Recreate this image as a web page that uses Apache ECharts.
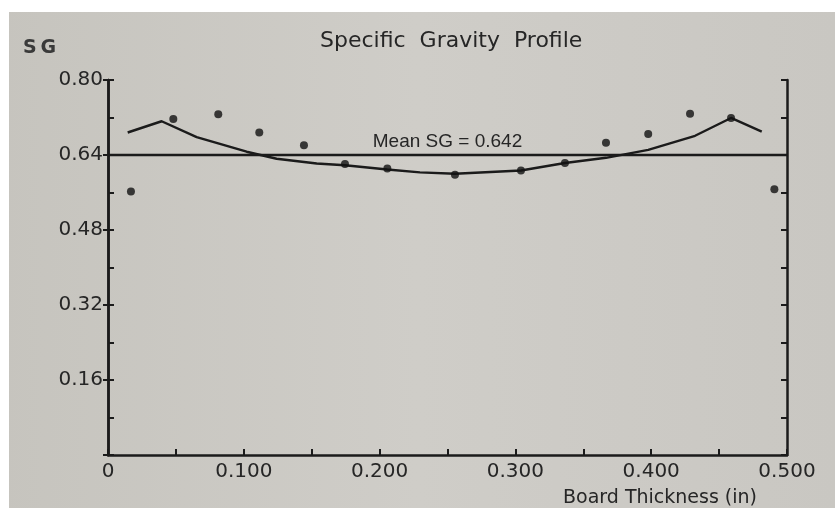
<!DOCTYPE html>
<html>
<head>
<meta charset="utf-8">
<title>Specific Gravity Profile</title>
<script src="https://cdn.jsdelivr.net/npm/echarts@6/dist/echarts.min.js"></script>
<style>
  html, body { margin: 0; padding: 0; background: #ffffff; }
  #chart { width: 835px; height: 508px; }
</style>
</head>
<body>
<div id="chart"></div>
<script>
// Measured layer densities through the board (thickness in inches, SG)
const sampleDepth = [0.0169, 0.0481, 0.0812, 0.1114, 0.1443, 0.1745, 0.2057, 0.2555,
                     0.3041, 0.3365, 0.3667, 0.3978, 0.4286, 0.4588, 0.4907];
const sampleSG    = [0.562, 0.717, 0.727, 0.688, 0.661, 0.621, 0.611, 0.598,
                     0.607, 0.623, 0.666, 0.685, 0.728, 0.719, 0.567];

// Fitted profile curve
const curveDepth = [0.0145, 0.0395, 0.0653, 0.1021, 0.1242, 0.1537, 0.1745, 0.2057, 0.2297,
                    0.2555, 0.3041, 0.3365, 0.3667, 0.3978, 0.4323, 0.4588, 0.4814];
const curveSG    = [0.688, 0.712, 0.678, 0.647, 0.632, 0.622, 0.618, 0.609, 0.603,
                    0.600, 0.607, 0.623, 0.634, 0.651, 0.681, 0.719, 0.690];

const meanSG = 0.642;

// Tick labels
const xTickValues = [0, 0.1, 0.2, 0.3, 0.4, 0.5];
const xTickLabels = ['0', '0.100', '0.200', '0.300', '0.400', '0.500'];
const yTickValues = [0.16, 0.32, 0.48, 0.64, 0.80];
const yTickLabels = ['0.16', '0.32', '0.48', '0.64', '0.80'];

function lookupLabel(values, labels, v) {
  for (let i = 0; i < values.length; i++) {
    if (Math.abs(values[i] - v) < 1e-6) return labels[i];
  }
  return '';
}

const ink = '#1b1b1b';
const textInk = '#262626';
const tickFont = 'DejaVu Sans';

const chart = echarts.init(document.getElementById('chart'), null, { renderer: 'canvas' });

const yBase = {
  type: 'value',
  min: 0,
  max: 0.8,
  splitLine: { show: false },
  axisLine: { show: true, lineStyle: { color: ink, width: 2.5 } }
};

chart.setOption({
  animation: false,
  backgroundColor: {
    type: 'linear', x: 0, y: 0, x2: 1, y2: 0,
    colorStops: [
      { offset: 0, color: '#c6c4be' },
      { offset: 0.5, color: '#cfcdc8' },
      { offset: 1, color: '#c9c7c2' }
    ]
  },
  graphic: [
    { type: 'rect', left: 0, top: 0, shape: { width: 835, height: 12 }, style: { fill: '#ffffff' }, silent: true },
    { type: 'rect', left: 0, top: 0, shape: { width: 9, height: 508 }, style: { fill: '#ffffff' }, silent: true }
  ],
  title: [
    {
      text: 'Specific  Gravity  Profile',
      left: 315, top: 25,
      textStyle: { fontFamily: tickFont, fontSize: 22, fontWeight: 'normal', color: textInk }
    },
    {
      text: 'S\u2009G',
      left: 18, top: 34,
      textStyle: { fontFamily: tickFont, fontSize: 19, fontWeight: 'bold', color: '#3a3a3a' }
    }
  ],
  grid: { left: 108, right: 48, top: 80, bottom: 51, containLabel: false },
  xAxis: {
    type: 'value',
    min: 0,
    max: 0.5,
    interval: 0.05,
    name: 'Board Thickness (in)',
    nameLocation: 'end',
    nameGap: -30,
    nameTextStyle: {
      fontFamily: tickFont, fontSize: 19, color: textInk,
      align: 'right', verticalAlign: 'top', padding: [34, 0, 0, 0]
    },
    splitLine: { show: false },
    axisLine: { show: true, lineStyle: { color: ink, width: 2.5 } },
    axisTick: { show: true, inside: true, length: 6, lineStyle: { color: ink, width: 2 } },
    axisLabel: {
      margin: 7,
      fontFamily: tickFont, fontSize: 20, color: textInk,
      formatter: v => lookupLabel(xTickValues, xTickLabels, v)
    }
  },
  yAxis: [
    Object.assign({}, yBase, {
      position: 'left',
      interval: 0.16,
      axisTick: { show: true, inside: false, length: 5, lineStyle: { color: ink, width: 2 } },
      axisLabel: {
        margin: 5,
        fontFamily: tickFont, fontSize: 20, color: textInk,
        formatter: v => lookupLabel(yTickValues, yTickLabels, v)
      }
    }),
    Object.assign({}, yBase, {
      position: 'left',
      interval: 0.08,
      axisTick: { show: true, inside: true, length: 6, lineStyle: { color: ink, width: 2 } },
      axisLabel: { show: false }
    }),
    Object.assign({}, yBase, {
      position: 'right',
      interval: 0.08,
      axisTick: { show: true, inside: true, length: 6, lineStyle: { color: ink, width: 2 } },
      axisLabel: { show: false }
    })
  ],
  series: [
    {
      name: 'Profile',
      type: 'line',
      yAxisIndex: 0,
      data: curveDepth.map((x, i) => [x, curveSG[i]]),
      symbol: 'none',
      smooth: false,
      lineStyle: { color: ink, width: 2.4 },
      markLine: {
        silent: true,
        symbol: 'none',
        lineStyle: { color: ink, width: 2.4, type: 'solid' },
        label: {
          show: true,
          position: 'middle',
          distance: 4,
          formatter: 'Mean SG = ' + meanSG.toFixed(3),
          fontFamily: 'Liberation Sans',
          fontSize: 19,
          color: textInk
        },
        data: [{ yAxis: meanSG }]
      },
      z: 2
    },
    {
      name: 'Samples',
      type: 'scatter',
      yAxisIndex: 0,
      data: sampleDepth.map((x, i) => [x, sampleSG[i]]),
      symbol: 'circle',
      symbolSize: 8,
      itemStyle: { color: '#121212' },
      z: 3
    }
  ]
});
</script>
</body>
</html>
